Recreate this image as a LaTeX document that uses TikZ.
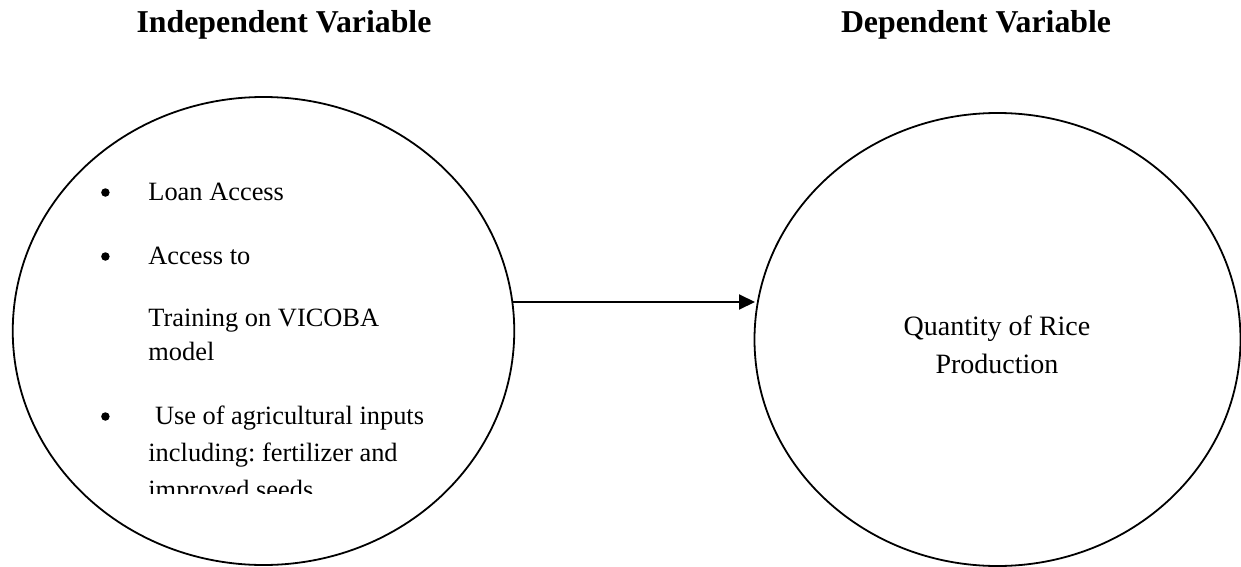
\documentclass[tikz,border=0pt]{standalone}
\usepackage{fontspec}
\setmainfont{Liberation Serif}
\usetikzlibrary{shapes.geometric,arrows.meta}
\frenchspacing
\begin{document}
\begin{tikzpicture}[x=1pt,y=-1pt,
  varbox/.style={ellipse,draw,line width=1.8pt,inner sep=0pt},
  titletext/.style={font=\fontsize{31.8}{36}\selectfont\bfseries,inner sep=0pt,anchor=base},
  itemtext/.style={font=\fontsize{26.4}{30}\selectfont,inner sep=0pt,anchor=base west},
  bul/.style={circle,fill,minimum size=8.5pt,inner sep=0pt},
  outtext/.style={font=\fontsize{28}{38}\selectfont,inner sep=0pt,align=center},
  link/.style={line width=2pt,-{Triangle[length=16pt,width=15pt]}}]
\useasboundingbox (0,0) rectangle (1241,567);
\clip (0,0) rectangle (1241,567);
% titles
\node[titletext] (tl) at (284,33) {Independent Variable};
\node[titletext] (tr) at (976,33) {Dependent Variable};
% ellipses
\node[varbox,minimum width=501.5pt,minimum height=468pt] (left) at (263.5,331) {};
\node[varbox,minimum width=486pt,minimum height=453pt] (right) at (997.5,339.5) {};
% left items
\node[bul] (b1) at (105.4,192.5) {};
\node[itemtext] (i1) at (148.2,200) {Loan Access};
\node[bul] (b2) at (105.4,256.5) {};
\node[itemtext] (i2) at (148.2,264) {Access to};
\node[itemtext] (i3) at (148.2,326) {Training on VICOBA};
\node[itemtext] (i4) at (148.2,360) {model};
\node[bul] (b3) at (105.4,416.5) {};
\node[itemtext] (i5) at (148.2,424) {\ Use of agricultural inputs};
\node[itemtext] (i6) at (148.2,461) {including: fertilizer and};
\begin{scope}
\clip (0,0) rectangle (1241,493);
\node[itemtext] (i7) at (148.2,498) {improved seeds};
\end{scope}
% right text
\node[outtext] (q) at (997,344.3) {Quantity of Rice\\Production};
% connector
\coordinate (s) at (512.3,302);
\coordinate (t) at (755,302);
\draw[link] (s) -- (t);
\end{tikzpicture}
\end{document}
